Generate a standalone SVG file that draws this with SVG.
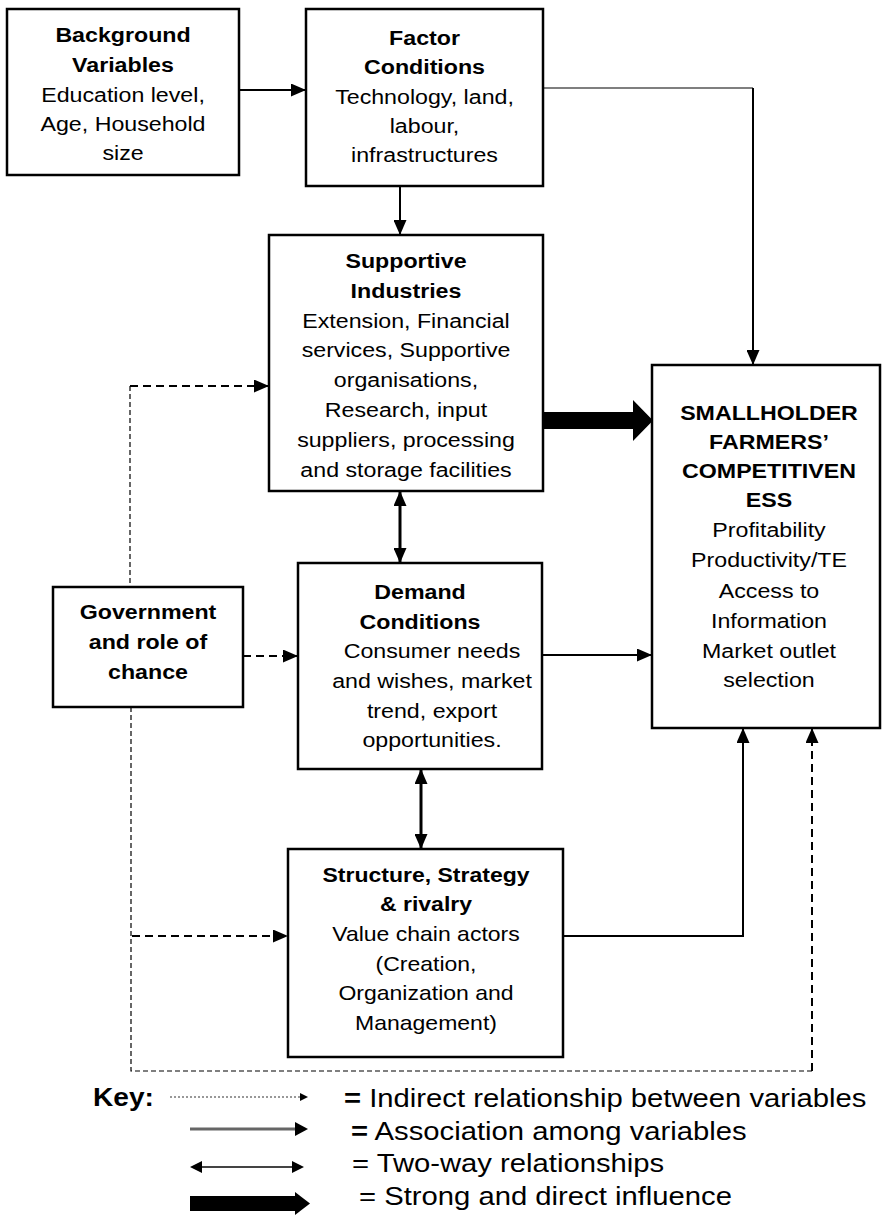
<svg xmlns="http://www.w3.org/2000/svg" width="882" height="1223" viewBox="0 0 882 1223">
<style>
  .box { fill: #fff; stroke: #000; stroke-width: 2.5; }
  text { font-family: "Liberation Sans", Arial, sans-serif; font-size: 20px; fill: #000; text-anchor: middle; }
  .b { font-weight: bold; }
  .key text { font-size: 25px; text-anchor: start; }
  .ln { fill: none; stroke: #000; stroke-width: 2; }
  .thin { fill: none; stroke: #000; stroke-width: 1.2; }
  .dash { fill: none; stroke: #000; stroke-width: 2; stroke-dasharray: 8 5; }
  .tdash { fill: none; stroke: #000; stroke-width: 1.2; stroke-dasharray: 5 3; }
</style>
<defs>
  <marker id="ah" viewBox="0 0 15 13" refX="15" refY="6.5" markerWidth="15" markerHeight="13" markerUnits="userSpaceOnUse" orient="auto-start-reverse">
    <path d="M0,0 L15,6.5 L0,13 z" fill="#000"/>
  </marker>
</defs>
<rect width="882" height="1223" fill="#fff"/>

<g id="connectors">
  <path class="ln" d="M239,90 H306" marker-end="url(#ah)"/>
  <path class="thin" d="M543,88 H753"/>
  <path class="ln" d="M753,88 V365" marker-end="url(#ah)"/>
  <path class="ln" d="M400,186 V235" marker-end="url(#ah)"/>
  <path class="ln" style="stroke-width:3" d="M400,491 V563" marker-start="url(#ah)" marker-end="url(#ah)"/>
  <path class="ln" d="M542,655 H652" marker-end="url(#ah)"/>
  <path class="ln" style="stroke-width:3" d="M421,769 V849" marker-start="url(#ah)" marker-end="url(#ah)"/>
  <path class="ln" d="M563,936 H743 V728" marker-end="url(#ah)"/>
  <polygon points="543,412 633,412 633,400 653,420.5 633,441 633,429 543,429" fill="#000"/>
  <path class="tdash" d="M130,386 V587"/>
  <path class="dash" d="M130,386 H269" marker-end="url(#ah)"/>
  <path class="dash" d="M243,656 H298" marker-end="url(#ah)"/>
  <path class="tdash" d="M131,707 V1071 H812"/>
  <path class="dash" d="M812,1071 V728" marker-end="url(#ah)"/>
  <path class="dash" d="M132,936 H288" marker-end="url(#ah)"/>
</g>

<g id="background">
  <rect class="box" x="7" y="9" width="232" height="166"/>
  <g transform="translate(123,0) scale(1.16,1)">
    <text class="b" x="0" y="42">Background</text>
    <text class="b" x="0" y="72">Variables</text>
    <text x="0" y="102">Education level,</text>
    <text x="0" y="131">Age, Household</text>
    <text x="0" y="160">size</text>
  </g>
</g>

<g id="factor">
  <rect class="box" x="306" y="9" width="237" height="177"/>
  <g transform="translate(424.5,0) scale(1.16,1)">
    <text class="b" x="0" y="45">Factor</text>
    <text class="b" x="0" y="74">Conditions</text>
    <text x="0" y="104">Technology, land,</text>
    <text x="0" y="133">labour,</text>
    <text x="0" y="162">infrastructures</text>
  </g>
</g>

<g id="supportive">
  <rect class="box" x="269" y="235" width="274" height="256"/>
  <g transform="translate(406,0) scale(1.16,1)">
    <text class="b" x="0" y="268">Supportive</text>
    <text class="b" x="0" y="298">Industries</text>
    <text x="0" y="328">Extension, Financial</text>
    <text x="0" y="357">services, Supportive</text>
    <text x="0" y="387">organisations,</text>
    <text x="0" y="417">Research, input</text>
    <text x="0" y="447">suppliers, processing</text>
    <text x="0" y="477">and storage facilities</text>
  </g>
</g>

<g id="government">
  <rect class="box" x="53" y="587" width="190" height="120"/>
  <g transform="translate(148,0) scale(1.16,1)">
    <text class="b" x="0" y="619">Government</text>
    <text class="b" x="0" y="649">and role of</text>
    <text class="b" x="0" y="679">chance</text>
  </g>
</g>

<g id="demand">
  <rect class="box" x="298" y="563" width="244" height="206"/>
  <g transform="translate(420,0) scale(1.16,1)">
    <text class="b" x="0" y="599">Demand</text>
    <text class="b" x="0" y="629">Conditions</text>
  </g>
  <g transform="translate(432,0) scale(1.16,1)">
    <text x="0" y="658">Consumer needs</text>
    <text x="0" y="688">and wishes, market</text>
    <text x="0" y="718">trend, export</text>
    <text x="0" y="747">opportunities.</text>
  </g>
</g>

<g id="smallholder">
  <rect class="box" x="652" y="365" width="228" height="363"/>
  <g transform="translate(769,0) scale(1.16,1)">
    <text class="b" x="0" y="420">SMALLHOLDER</text>
    <text class="b" x="0" y="449">FARMERS’</text>
    <text class="b" x="0" y="478">COMPETITIVEN</text>
    <text class="b" x="0" y="507">ESS</text>
    <text x="0" y="537">Profitability</text>
    <text x="0" y="567">Productivity/TE</text>
    <text x="0" y="598">Access to</text>
    <text x="0" y="628">Information</text>
    <text x="0" y="658">Market outlet</text>
    <text x="0" y="687">selection</text>
  </g>
</g>

<g id="structure">
  <rect class="box" x="288" y="849" width="275" height="208"/>
  <g transform="translate(426,0) scale(1.15,1)">
    <text class="b" x="0" y="882">Structure, Strategy</text>
    <text class="b" x="0" y="911">&amp; rivalry</text>
    <text x="0" y="941">Value chain actors</text>
    <text x="0" y="971">(Creation,</text>
    <text x="0" y="1000">Organization and</text>
    <text x="0" y="1030">Management)</text>
  </g>
</g>

<g id="key" class="key">
  <g transform="translate(93,0) scale(1.08,1)">
    <text class="b" x="0" y="1106" style="font-size:26px">Key:</text>
  </g>
  <path d="M170,1097 H300" fill="none" stroke="#777" stroke-width="1.5" stroke-dasharray="2 2"/>
  <polygon points="300,1093 308,1097 300,1101" fill="#000"/>
  <path d="M190,1129 H296" fill="none" stroke="#666" stroke-width="3"/>
  <polygon points="295,1122 308,1129 295,1136" fill="#000"/>
  <path d="M200,1167 H294" fill="none" stroke="#444" stroke-width="2"/>
  <polygon points="202,1161 190,1167 202,1173" fill="#000"/>
  <polygon points="292,1161 304,1167 292,1173" fill="#000"/>
  <rect x="190" y="1196" width="106" height="15" fill="#000"/>
  <polygon points="295,1192 310,1203.5 295,1215" fill="#000"/>
  <g transform="translate(344,0) scale(1.17,1)">
    <text x="0" y="1107"><tspan class="b">=</tspan> Indirect relationship between variables</text>
  </g>
  <g transform="translate(351,0) scale(1.17,1)">
    <text x="0" y="1140"><tspan class="b">=</tspan> Association among variables</text>
  </g>
  <g transform="translate(352,0) scale(1.17,1)">
    <text x="0" y="1172">= Two-way relationships</text>
  </g>
  <g transform="translate(359,0) scale(1.17,1)">
    <text x="0" y="1205">= Strong and direct influence</text>
  </g>
</g>
</svg>
